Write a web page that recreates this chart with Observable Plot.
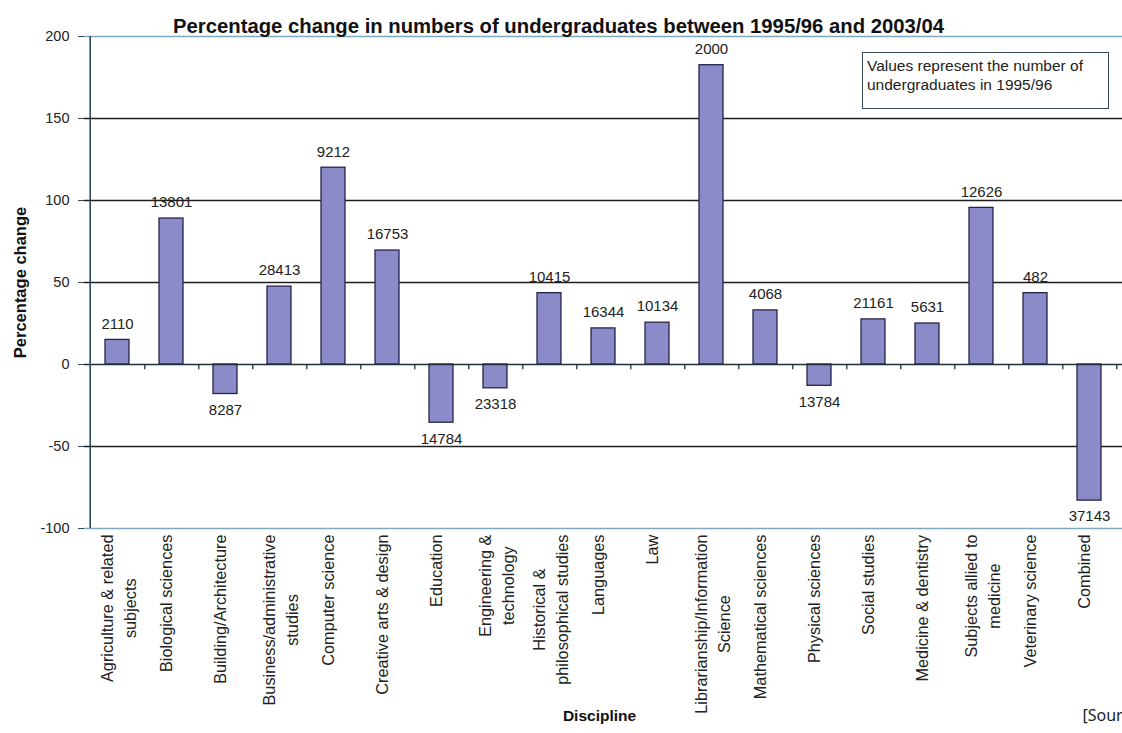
<!DOCTYPE html>
<html><head><meta charset="utf-8">
<script src="https://cdn.jsdelivr.net/npm/d3@7"></script>
<script src="https://cdn.jsdelivr.net/npm/@observablehq/plot@0.6"></script>
<style>
html,body{margin:0;padding:0;background:#fff;overflow:hidden;}
#wrap{position:relative;width:1122px;height:733px;overflow:hidden;font-family:"Liberation Sans",Arial,sans-serif;}
#note{position:absolute;left:862px;top:52px;width:237px;height:49px;border:1.5px solid #34495a;padding:3px 4px;font-size:15.5px;line-height:19px;color:#222;}
</style></head><body><div id="wrap"></div>
<script>
const categories = [
  "Agriculture & related\nsubjects", "Biological sciences", "Building/Architecture",
  "Business/administrative\nstudies", "Computer science", "Creative arts & design",
  "Education", "Engineering &\ntechnology", "Historical &\nphilosophical studies",
  "Languages", "Law", "Librarianship/Information\nScience", "Mathematical sciences",
  "Physical sciences", "Social studies", "Medicine & dentistry",
  "Subjects allied to\nmedicine", "Veterinary science", "Combined"
];
const changes = [15, 89, -18, 47.5, 120, 69.5, -35.5, -14.5, 43.5, 22, 25.5, 182.5, 33, -13, 27.5, 25, 95.5, 43.5, -83];
const counts = ["2110","13801","8287","28413","9212","16753","14784","23318","10415","16344","10134","2000","4068","13784","21161","5631","12626","482","37143"];
const yTicks = [-100, -50, 0, 50, 100, 150, 200];
const gridLines = [150, 100, 50, -50];
const edgeLines = [200, -100];
const titleText = "Percentage change in numbers of undergraduates between 1995/96 and 2003/04";
const yTitle = "Percentage change";
const xTitle = "Discipline";
const sourceText = "[Sour";
const noteText = "Values represent the number of undergraduates in 1995/96";

const data = categories.map((c, i) => ({cat: c, value: changes[i], label: counts[i]}));

const W = 1122, H = 733, mL = 84, mR = 0, mT = 36, mB = 205;
const step = (W - mL - mR) / categories.length;

const chart = Plot.plot({
  width: W, height: H,
  marginTop: mT, marginBottom: mB, marginLeft: mL, marginRight: mR,
  style: {fontFamily: "Liberation Sans, Arial, sans-serif", fontSize: "14px", color: "#222", background: "transparent", overflow: "visible"},
  x: {domain: categories, paddingInner: 0.55, paddingOuter: 0.275, axis: null},
  y: {domain: [-100, 200], axis: null},
  marks: [
    Plot.ruleY(gridLines, {stroke: "#1e1e1e", strokeWidth: 1.3}),
    Plot.ruleY(edgeLines, {stroke: "#7ea9c0", strokeWidth: 1.5}),
    Plot.barY(data, {x: "cat", y: "value", fill: "#8b8bc9", stroke: "#25254a", strokeWidth: 1.3}),
    Plot.ruleY([0], {stroke: "#1e2e3a", strokeWidth: 1.5}),
    Plot.ruleX(categories, {x: d => d, y1: 0, y2: -3.2, dx: step / 2, stroke: "#1e2e3a", strokeWidth: 1.3}),
    Plot.ruleX([categories[0]], {x: d => d, y1: -100, y2: 200, dx: -step / 2, stroke: "#2c4a5c", strokeWidth: 1.6}),
    Plot.axisY({ticks: yTicks, tickFormat: d => String(d), tickSize: 6, tickPadding: 9, fontSize: 14.5, label: null, stroke: "#2c4a5c"}),
    Plot.text(data.filter(d => d.value >= 0), {x: "cat", y: "value", text: "label", dy: -16, fontSize: 15, fill: "#222"}),
    Plot.text(data.filter(d => d.value < 0), {x: "cat", y: "value", text: "label", dy: 16, fontSize: 15, fill: "#222"}),
    Plot.text(categories, {x: d => d, y: -100, rotate: -90, textAnchor: "middle", lineAnchor: "middle", lineHeight: 1.4, fontSize: 16.3, fill: "#222", className: "xlab"}),
    Plot.text([titleText], {frameAnchor: "top", dx: -45, dy: -18, fontSize: 20.3, fontWeight: "bold", fill: "#111"}),
    Plot.text([yTitle], {frameAnchor: "left", textAnchor: "middle", dx: -64, rotate: -90, fontSize: 16.5, fontWeight: "bold", fill: "#111"}),
    Plot.text([xTitle], {frameAnchor: "bottom", dx: -4, dy: 192, fontSize: 15.5, fontWeight: "bold", fill: "#111"}),
    Plot.text([sourceText], {frameAnchor: "bottom-right", textAnchor: "start", dx: -40, dy: 192, fontSize: 16, fontFamily: "Noto Sans, sans-serif", fill: "#222"})
  ]
});

const wrap = document.getElementById("wrap");
wrap.appendChild(chart);
const note = document.createElement("div");
note.id = "note";
note.textContent = noteText;
wrap.appendChild(note);

// top-align the rotated category labels, keeping the lines centred
const topY = H - mB + 6;
chart.querySelectorAll("g.xlab text, .xlab text").forEach(t => {
  const bb = t.getBBox();
  const tr = t.getAttribute("transform") || "";
  const m = tr.match(/translate\(([^,\s]+)[,\s]+([^)]+)\)/);
  let x = m ? +m[1] : +(t.getAttribute("x") || 0);
  t.removeAttribute("x"); t.removeAttribute("y");
  t.setAttribute("transform", `translate(${x},${topY + bb.width / 2}) rotate(-90)`);
});
</script></body></html>
